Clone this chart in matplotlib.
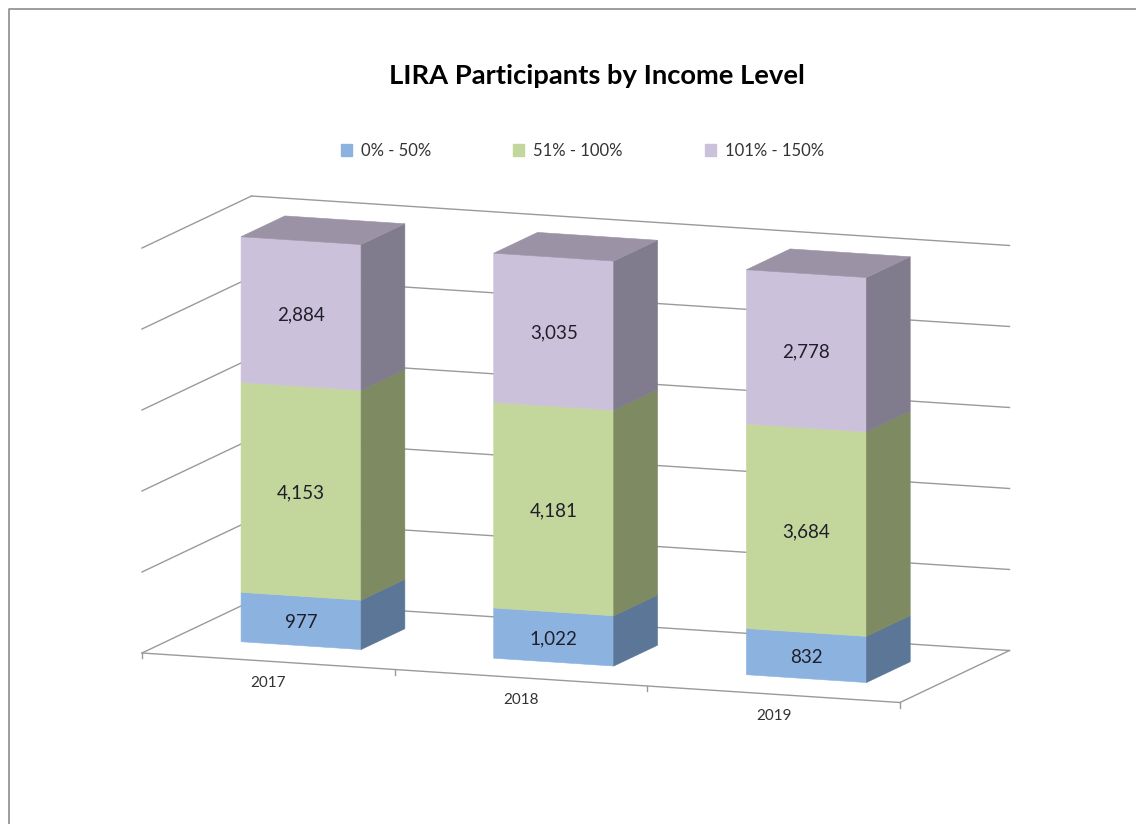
import matplotlib
matplotlib.use('Agg')
import matplotlib.pyplot as plt
from matplotlib.patches import Patch

# - Data -
years = ['2017', '2018', '2019']
series_names = ['0% - 50%', '51% - 100%', '101% - 150%']
low = [977, 1022, 832]
mid = [4153, 4181, 3684]
high = [2884, 3035, 2778]
grid_levels = [0, 20, 40, 60, 80, 100]

front_colors = ['#8cb3e0', '#c3d69b', '#ccc1da']
side_colors = ['#5b7696', '#7e8a62', '#817b8e']
top_color = '#9c92a6'
line_color = '#9a9a9a'
label_color = '#1f1f2a'

plt.rcParams['font.family'] = ['Lato', 'DejaVu Sans']


# - Oblique projection: category, percent, depth -> picture pixels -
def project(u, v, d):
    return (142 + u * 252.67 + d * 109.5,
            653 + u * 16.5 - d * 52 - v * 4.05)


def face(ax, corners, color):
    pts = [project(*c) for c in corners]
    ax.fill([p[0] for p in pts], [p[1] for p in pts], facecolor=color,
            edgecolor=color, linewidth=0.4, zorder=3)


def segment(ax, a, b, lw=1.0):
    pa, pb = project(*a), project(*b)
    ax.plot([pa[0], pb[0]], [pa[1], pb[1]], color=line_color, lw=lw, zorder=1)


fig = plt.figure(figsize=(11.36, 8.24), dpi=100)
ax = fig.add_axes([0, 0, 1, 1])
ax.set_xlim(0, 1136)
ax.set_ylim(824, 0)
ax.axis('off')

# outer frame, only top and left are inside the crop
ax.plot([8.5, 8.5, 1136], [824, 8.5, 8.5], color='#8c8c8c', lw=1.2, zorder=1)

# - Walls and floor -
n = len(years)
for level in grid_levels:
    segment(ax, (0, level, 0), (0, level, 1))
    segment(ax, (0, level, 1), (n, level, 1))
segment(ax, (0, 0, 0), (n, 0, 0))
segment(ax, (n, 0, 0), (n, 0, 1))
for i in range(n + 1):
    p = project(i, 0, 0)
    ax.plot([p[0], p[0]], [p[1], p[1] + 5], color=line_color, lw=1.0, zorder=1)

# - Bars (100% stacked, labels show the counts) -
u_left, u_right = 0.262, 0.737
d_front, d_back = 0.3, 0.7
for i in range(n):
    counts = [low[i], mid[i], high[i]]
    total = sum(counts)
    base = 0
    for s, count in enumerate(counts):
        top = base + count / total * 100
        l, r = i + u_left, i + u_right
        face(ax, [(l, base, d_front), (r, base, d_front),
                  (r, top, d_front), (l, top, d_front)], front_colors[s])
        face(ax, [(r, base, d_front), (r, base, d_back),
                  (r, top, d_back), (r, top, d_front)], side_colors[s])
        cx, cy = project((l + r) / 2, (base + top) / 2, d_front)
        ax.text(cx, cy + 1.5, f'{count:,}', ha='center', va='center', fontsize=13.5,
                color=label_color, zorder=4)
        base = top
    face(ax, [(l, 100, d_front), (r, 100, d_front),
              (r, 100, d_back), (l, 100, d_back)], top_color)
    x, y = project(i + 0.5, 0, 0)
    ax.text(x, y + 22, years[i], ha='center', va='center', fontsize=11,
            color='#333333')

# - Title and legend -
ax.text(596.5, 76, 'LIRA Participants by Income Level', ha='center', va='center',
        fontsize=19.7, fontweight='bold', color='black')
handles = [Patch(facecolor=c, edgecolor=c) for c in front_colors]
ax.legend(handles, series_names, loc='center', bbox_to_anchor=(0.5128, 0.817),
          ncol=3, frameon=False, fontsize=12, handlelength=0.66,
          handleheight=0.66, handletextpad=0.55, columnspacing=4.9,
          labelcolor='#333333')

fig.savefig('out.png', dpi=100)
